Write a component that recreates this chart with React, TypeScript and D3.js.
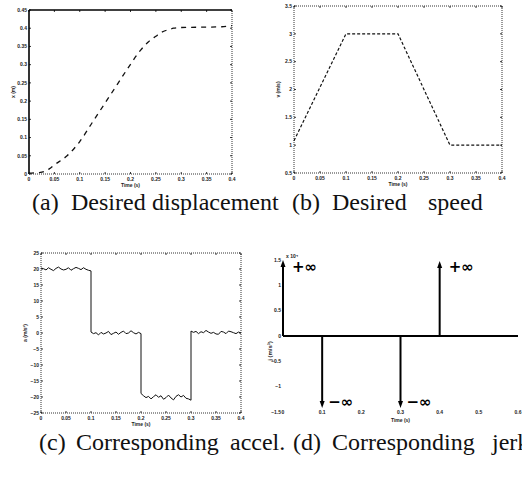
import React from 'react';
import * as d3 from 'd3';

// ---------- (a) Desired displacement ----------
const dispT = [0, 0.01, 0.02, 0.03, 0.04, 0.05, 0.075, 0.1, 0.125, 0.15, 0.175, 0.2, 0.22, 0.235, 0.25, 0.26, 0.272, 0.285, 0.3, 0.35, 0.38, 0.4];
const dispX = [0.002, 0.003, 0.004, 0.007, 0.014, 0.025, 0.05, 0.089, 0.142, 0.195, 0.248, 0.301, 0.34, 0.362, 0.378, 0.388, 0.395, 0.4, 0.402, 0.403, 0.404, 0.407];
const dispYTicks = [0, 0.05, 0.1, 0.15, 0.2, 0.25, 0.3, 0.35, 0.4, 0.45];

// ---------- (b) Desired speed ----------
const speedT = [0, 0.1, 0.2, 0.3, 0.4];
const speedV = [1.08, 3, 3, 1, 1];
const speedYTicks = [0.5, 1, 1.5, 2, 2.5, 3, 3.5];

// shared time ticks
const timeTicks = [0, 0.05, 0.1, 0.15, 0.2, 0.25, 0.3, 0.35, 0.4];

// ---------- (c) Corresponding acceleration ----------
const accSeg1 = [20.3, 20.1, 19.7, 20.4, 19.9, 19.5, 20.2, 20.6, 20.0, 19.7, 19.9, 20.4, 19.6, 20.1, 20.5, 20.2, 19.8, 20.4, 19.9, 19.6, 19.4];
const accSeg2 = [0.3, -0.2, 0.1, -0.6, 0.2, -0.3, 0.0, 0.5, -0.5, -0.1, 0.3, -0.4, 0.2, 0.6, -0.2, 0.0, 0.7, 0.1, -0.3, 0.2, -0.2];
const accSeg3 = [-18.9, -19.6, -20.2, -19.8, -20.6, -19.9, -19.3, -20.1, -19.6, -20.7, -20.2, -19.4, -20.3, -20.9, -19.8, -19.3, -20.0, -19.5, -20.4, -20.6, -21.0];
const accSeg4 = [0.6, 0.2, 0.5, -0.2, 0.4, 0.1, 0.8, 0.3, -0.1, 0.2, -0.3, -0.4, 0.5, 0.3, -0.2, 0.6, 0.4, 0.1, -0.2, 0.3, 0.0];
const accSegStart = [0, 0.1, 0.2, 0.3];
const accSegEnd = [0.1, 0.2, 0.3, 0.4];
const accYTicks = [-25, -20, -15, -10, -5, 0, 5, 10, 15, 20, 25];

// ---------- (d) Corresponding jerk ----------
const jerkT = [0, 0.1, 0.3, 0.4];
const jerkV = [1.5, -1.42, -1.42, 1.48];
const jerkLabels = ['+∞', '−∞', '−∞', '+∞'];
const jerkXTicks = [0, 0.1, 0.2, 0.3, 0.4, 0.5, 0.6];
const jerkYTicks = [-1.5, -1, -0.5, 0, 0.5, 1, 1.5];

// captions (words)
const captionWords = [
  ['(a)', 'Desired', 'displacement'],
  ['(b)', 'Desired', 'speed'],
  ['(c)', 'Corresponding', 'accel.'],
  ['(d)', 'Corresponding', 'jerk'],
];

const fmt = (v: number) => String(v).replace('-', '−');

const TICK_FONT = { fontFamily: 'Liberation Sans, Arial, sans-serif', fontSize: 5, fontWeight: 700, fill: '#222' } as const;

type PanelProps = {
  x: d3.ScaleLinear<number, number>;
  y: d3.ScaleLinear<number, number>;
  xTicks: number[];
  yTicks: number[];
  solid?: { top?: boolean; left?: boolean };
  yLabel: string;
  children?: React.ReactNode;
};

function Panel({ x, y, xTicks, yTicks, solid = {}, yLabel, children }: PanelProps) {
  const [x0, x1] = x.range();
  const [y0, y1] = y.range();
  const dotted = { stroke: '#333', strokeWidth: 1, strokeDasharray: '1,1', fill: 'none' };
  const solidS = { stroke: '#000', strokeWidth: 1.6, fill: 'none' };
  return (
    <g>
      <line x1={x0} x2={x1} y1={y1} y2={y1} style={solid.top ? solidS : dotted} />
      <line x1={x0} x2={x0} y1={y0} y2={y1} style={solid.left ? solidS : dotted} />
      <line x1={x0} x2={x1} y1={y0} y2={y0} style={dotted} />
      <line x1={x1} x2={x1} y1={y0} y2={y1} style={dotted} />
      {xTicks.map((t, i) => (
        <g key={'xt' + i}>
          <line x1={x(t)} x2={x(t)} y1={y0} y2={y0 - 2} stroke="#000" strokeWidth={0.8} />
          <line x1={x(t)} x2={x(t)} y1={y1} y2={y1 + 2} stroke="#000" strokeWidth={0.8} />
          <text x={x(t)} y={y0 + 7} textAnchor="middle" style={TICK_FONT}>{fmt(t)}</text>
        </g>
      ))}
      {yTicks.map((t, i) => (
        <g key={'yt' + i}>
          <line x1={x0} x2={x0 + 2} y1={y(t)} y2={y(t)} stroke="#000" strokeWidth={0.8} />
          <line x1={x1} x2={x1 - 2} y1={y(t)} y2={y(t)} stroke="#000" strokeWidth={0.8} />
          <text x={x0 - 2} y={y(t) + 1.8} textAnchor="end" style={TICK_FONT}>{fmt(t)}</text>
        </g>
      ))}
      <text x={(x0 + x1) / 2} y={y0 + 13} textAnchor="middle" style={TICK_FONT}>Time (s)</text>
      <text transform={`translate(${x0 - 14},${(y0 + y1) / 2}) rotate(-90)`} textAnchor="middle" style={TICK_FONT}>{yLabel}</text>
      {children}
    </g>
  );
}

export default function App() {
  const xa = d3.scaleLinear().domain([0, 0.4]).range([29, 232]);
  const ya = d3.scaleLinear().domain([0, 0.45]).range([174, 10]);
  const xb = d3.scaleLinear().domain([0, 0.4]).range([294, 502]);
  const yb = d3.scaleLinear().domain([0.5, 3.5]).range([173, 6]);
  const xc = d3.scaleLinear().domain([0, 0.4]).range([41, 241]);
  const yc = d3.scaleLinear().domain([-25, 25]).range([413, 253]);
  const xd = d3.scaleLinear().domain([0, 0.6]).range([283, 518]);
  const yd = d3.scaleLinear().domain([-1.5, 1.5]).range([412, 260]);

  const dispPath = d3.line<number>().x((_, i) => xa(dispT[i])).y((v) => ya(v)).curve(d3.curveMonotoneX)(dispX) || '';
  const speedPath = d3.line<number>().x((_, i) => xb(speedT[i])).y((v) => yb(v))(speedV) || '';

  const accSegs = [accSeg1, accSeg2, accSeg3, accSeg4];
  const accPts: [number, number][] = [];
  accSegs.forEach((seg, k) => {
    const n = seg.length - 1;
    seg.forEach((v, i) => {
      const t = accSegStart[k] + ((accSegEnd[k] - accSegStart[k]) * i) / n;
      accPts.push([t, v]);
    });
  });
  const accPath = d3.line<[number, number]>().x((d) => xc(d[0])).y((d) => yc(d[1]))(accPts) || '';

  const capStyle = { fontFamily: 'Liberation Serif, Times New Roman, serif', fontSize: 24, fill: '#111' } as const;
  const capX = [
    [32, 71, 152],
    [292, 332, 428],
    [39, 76, 230],
    [293, 332, 492],
  ];
  const capY = [210, 210, 450, 450];

  const zero = yd(0);

  return (
    <div style={{ position: 'absolute', left: 0, top: 0, width: 522, height: 478, background: '#fff', overflow: 'hidden' }}>
      <svg width={522} height={478} viewBox="0 0 522 478" style={{ display: 'block' }}>
        <rect width={522} height={478} fill="#fff" />
        <Panel x={xa} y={ya} xTicks={timeTicks} yTicks={dispYTicks} solid={{ top: true, left: true }} yLabel="x (m)">
          <path d={dispPath} fill="none" stroke="#111" strokeWidth={1.3} strokeDasharray="5,5" />
        </Panel>
        <Panel x={xb} y={yb} xTicks={timeTicks} yTicks={speedYTicks} yLabel="v (m/s)">
          <path d={speedPath} fill="none" stroke="#111" strokeWidth={1.2} strokeDasharray="3,2" />
        </Panel>
        <Panel x={xc} y={yc} xTicks={timeTicks} yTicks={accYTicks} yLabel="a (m/s²)">
          <path d={accPath} fill="none" stroke="#111" strokeWidth={1} />
        </Panel>

        <g>
          <line x1={xd(0)} x2={xd(0.6)} y1={zero} y2={zero} stroke="#000" strokeWidth={2} />
          {jerkXTicks.map((t, i) => (
            <text key={'jx' + i} x={xd(t)} y={414} textAnchor="middle" style={TICK_FONT}>{fmt(t)}</text>
          ))}
          {jerkYTicks.map((t, i) => (
            <text key={'jy' + i} x={xd(0) - 2} y={yd(t) + 1.8} textAnchor="end" style={TICK_FONT}>{fmt(t)}</text>
          ))}
          <text x={xd(0) + 3} y={258} style={TICK_FONT}>x 10⁴</text>
          <text x={(xd(0) + xd(0.6)) / 2} y={422} textAnchor="middle" style={TICK_FONT}>Time (s)</text>
          <text transform={`translate(272,${zero + 15}) rotate(-90)`} textAnchor="middle" style={{ ...TICK_FONT, fontSize: 6 }}>j (m/s³)</text>
          {jerkT.map((t, i) => {
            const xx = xd(t);
            const ye = yd(jerkV[i]);
            const up = jerkV[i] > 0;
            const head = up
              ? `M${xx - 2.5},${ye + 7} L${xx},${ye} L${xx + 2.5},${ye + 7} Z`
              : `M${xx - 2.5},${ye - 7} L${xx},${ye} L${xx + 2.5},${ye - 7} Z`;
            return (
              <g key={'ja' + i}>
                <line x1={xx} x2={xx} y1={zero} y2={up ? ye + 5 : ye - 5} stroke="#000" strokeWidth={2} />
                <path d={head} fill="#000" />
                <text
                  x={xx + (up ? 9 : 6)}
                  y={up ? 272 : 407}
                  style={{ fontFamily: 'DejaVu Sans, sans-serif', fontSize: 15, fontWeight: 700, fill: '#000' }}
                >
                  {jerkLabels[i]}
                </text>
              </g>
            );
          })}
        </g>

        {captionWords.map((words, c) => (
          <g key={'cap' + c}>
            {words.map((w, k) => (
              <text key={k} x={capX[c][k]} y={capY[c]} style={capStyle}>
                {w}
              </text>
            ))}
          </g>
        ))}
      </svg>
    </div>
  );
}
